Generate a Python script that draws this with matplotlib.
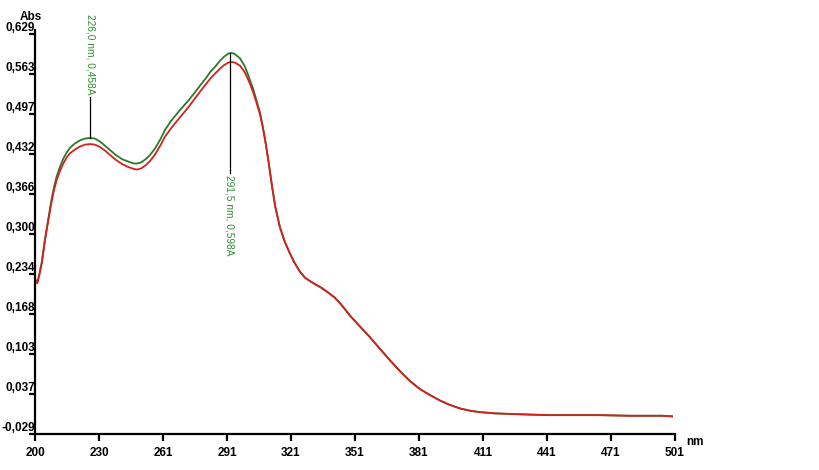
import matplotlib
matplotlib.use("Agg")
import matplotlib.pyplot as plt
import numpy as np

plt.rcParams['font.family'] = ['Liberation Sans', 'DejaVu Sans']

# wavelength (nm) and absorbance
wl = [200.0, 201.1, 202.0, 203.2, 204.7, 206.3, 207.9, 209.0, 210.2, 211.8, 213.3,
      214.9, 216.5, 218.8, 221.2, 223.5, 225.9, 228.2, 230.6, 233.0, 235.3, 238.0,
      241.0, 244.0, 246.5, 248.0, 250.0, 252.0, 254.1, 256.5, 259.0,
      261.1, 264.0, 268.2, 272.0, 275.0, 277.6, 280.5, 282.5, 284.7, 287.0, 289.0,
      291.0, 292.5, 294.0, 296.4, 298.5, 300.0, 301.1, 302.5, 304.0, 305.8, 307.0,
      308.2, 309.8, 311.5, 313.0, 315.2, 317.5, 319.9, 322.0, 324.6, 327.0, 330.0,
      334.0, 337.0, 340.0, 341.1, 344.0, 348.1, 352.0, 357.6, 362.0, 367.0, 372.0,
      376.4, 381.0, 385.8, 390.5, 395.0, 399.9, 405.0, 409.3, 416.0, 423.4, 432.0,
      442.2, 455.0, 465.7, 480.0, 495.0, 499.6]
abs_red = [0.225, 0.219, 0.232, 0.252, 0.290, 0.323, 0.355, 0.373, 0.389, 0.404, 0.416,
           0.426, 0.433, 0.439, 0.444, 0.447, 0.448, 0.447, 0.443, 0.437, 0.430, 0.422,
           0.415, 0.410, 0.407, 0.406, 0.408, 0.413, 0.420, 0.431, 0.446,
           0.460, 0.474, 0.492, 0.508, 0.522, 0.534, 0.547, 0.556, 0.564, 0.572, 0.578,
           0.582, 0.583, 0.582, 0.577, 0.567, 0.556, 0.547, 0.534, 0.518, 0.497, 0.478,
           0.455, 0.420, 0.378, 0.345, 0.311, 0.287, 0.268, 0.253, 0.238, 0.228, 0.221,
           0.213, 0.206, 0.198, 0.195, 0.184, 0.166, 0.151, 0.130, 0.112, 0.092, 0.073,
           0.058, 0.045, 0.035, 0.026, 0.019, 0.013, 0.009, 0.007, 0.005, 0.004, 0.003,
           0.002, 0.002, 0.002, 0.001, 0.001, 0.000]
abs_green = [0.226, 0.220, 0.233, 0.254, 0.292, 0.326, 0.359, 0.378, 0.395, 0.411, 0.424,
             0.434, 0.442, 0.449, 0.454, 0.457, 0.458, 0.457, 0.452, 0.445, 0.438, 0.430,
             0.423, 0.419, 0.416, 0.416, 0.418, 0.423, 0.430, 0.441, 0.456,
             0.471, 0.486, 0.504, 0.519, 0.532, 0.544, 0.557, 0.567, 0.575, 0.585, 0.592,
             0.597, 0.598, 0.596, 0.589, 0.577, 0.564, 0.553, 0.540, 0.522, 0.500, 0.479,
             0.456, 0.420, 0.378, 0.345, 0.311, 0.287, 0.268, 0.253, 0.238, 0.228, 0.221,
             0.213, 0.206, 0.198, 0.195, 0.184, 0.166, 0.151, 0.130, 0.112, 0.092, 0.073,
             0.058, 0.045, 0.035, 0.026, 0.019, 0.013, 0.009, 0.007, 0.005, 0.004, 0.003,
             0.002, 0.002, 0.002, 0.001, 0.001, 0.000]

peak_x = [226.0, 291.5]
peak_y = [0.458, 0.598]
peak_labels = ["226,0 nm, 0,458A", "291,5 nm, 0,598A"]

xtick_labels = ["200", "230", "261", "291", "321", "351", "381", "411", "441", "471", "501"]
ytick_labels = ["-0,029", "0,037", "0,103", "0,168", "0,234", "0,300", "0,366",
                "0,432", "0,497", "0,563", "0,629"]

fig = plt.figure(figsize=(8.19, 4.70), dpi=100)
ax = fig.add_axes([35 / 819, 36 / 470, 640 / 819, 404 / 470])

ax.plot(wl, abs_green, color='#2a7a2a', lw=1.3)
ax.plot(wl, abs_red, color='#d81e1e', lw=1.3)

# peak markers
grn = '#2f8f2f'
ax.plot([peak_x[0], peak_x[0]], [peak_y[0], 0.525], color='black', lw=0.9)
ax.text(peak_x[0], 0.529, peak_labels[0], rotation=-90, ha='center', va='bottom',
        color=grn, fontsize=7.3, clip_on=False)
ax.plot([peak_x[1], peak_x[1]], [peak_y[1], 0.400], color='black', lw=0.9)
ax.text(peak_x[1], 0.397, peak_labels[1], rotation=-90, ha='center', va='top',
        color=grn, fontsize=7.3)

ax.set_xlim(200, 501)
ax.set_ylim(-0.029, 0.6356)
ax.set_xticks(np.linspace(200, 501, 11))
ax.set_xticklabels(xtick_labels, fontweight='bold', fontsize=8.5)
ax.set_yticks(np.linspace(-0.029, 0.629, 11))
ax.set_yticklabels(ytick_labels, fontweight='bold', fontsize=8.5, va='bottom')

for s in ['top', 'right']:
    ax.spines[s].set_visible(False)
for s in ['left', 'bottom']:
    ax.spines[s].set_linewidth(1.6)
ax.tick_params(axis='x', length=5, width=1.6, pad=4)
ax.tick_params(axis='y', length=4, width=1.6, pad=-4)

fig.text(20 / 819, 1 - 17 / 470, "Abs", fontweight='bold', fontsize=8.5, va='center')
fig.text(686 / 819, 1 - 442 / 470, "nm", fontweight='bold', fontsize=8.5, va='center')

fig.savefig("out.png", dpi=100)
